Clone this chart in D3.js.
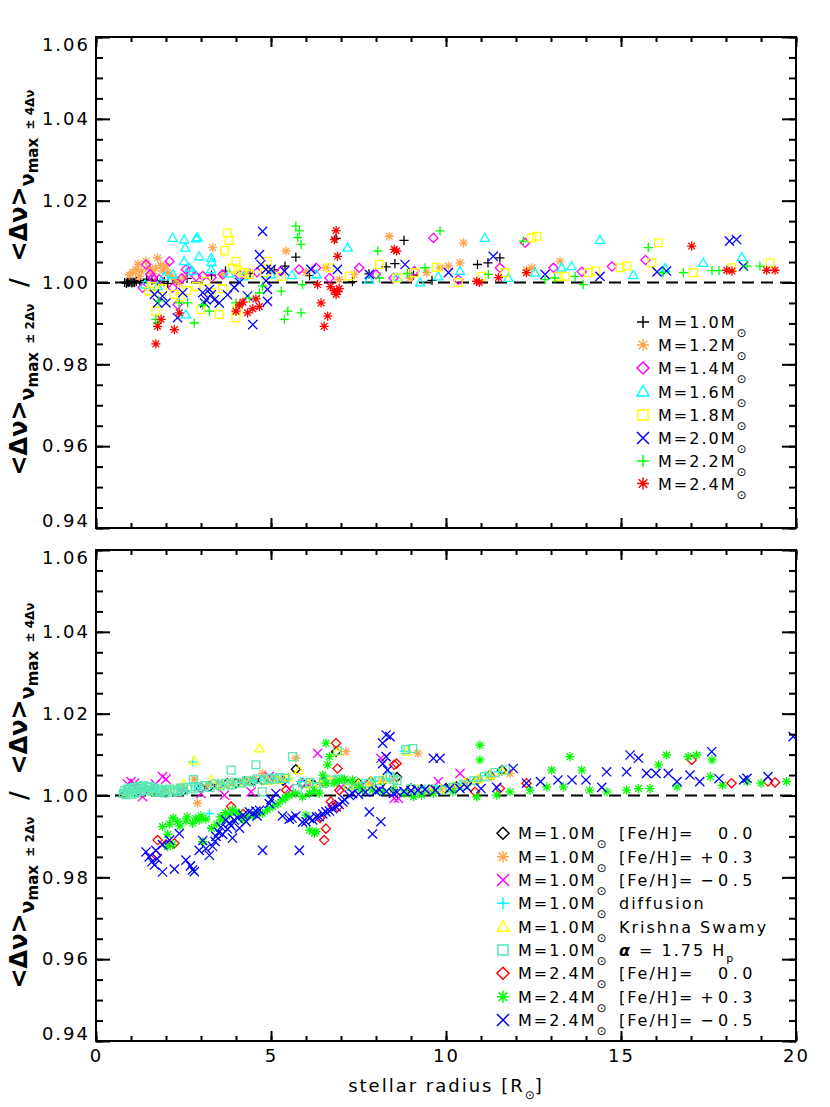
<!DOCTYPE html>
<html>
<head>
<meta charset="utf-8">
<script src="https://cdn.jsdelivr.net/npm/d3@7"></script>
<style>
body { margin: 0; background: #fff; }
text { font-family: "DejaVu Sans", sans-serif; }
</style>
</head>
<body>
<div id="chart"></div>
<script>
// ---- data: [stellar radius, ratio] ----

// upper panel, solar metallicity tracks
var topM10 = [[0.82,1.0000],[0.87,0.9998],[0.90,1.0001],[0.93,1.0000],[0.96,1.0002],[1.00,1.0001],[1.03,0.9999],[1.06,1.0001],[1.10,1.0000],[1.15,1.0002],[1.25,1.0005],[1.45,1.0008],[1.60,1.0006],[1.75,1.0004],[1.95,1.0002],[2.05,0.9998],[2.30,1.0004],[2.60,1.0010],[3.30,1.0018],[3.70,1.0028],[4.40,1.0022],[5.10,1.0031],[5.40,1.0040],[5.71,1.0062],[6.10,1.0017],[6.86,1.0108],[7.33,1.0002],[7.80,1.0021],[8.29,1.0038],[8.54,1.0046],[8.80,1.0103],[9.07,1.0018],[9.60,1.0005],[10.90,1.0044],[11.20,1.0048],[11.54,1.0060]];
var topM12 = [[0.95,1.0018],[1.05,1.0025],[1.14,1.0032],[1.20,1.0045],[1.24,1.0015],[1.30,1.0028],[1.43,1.0052],[1.50,1.0038],[1.55,1.0030],[1.62,1.0022],[1.70,1.0035],[1.76,1.0060],[1.85,1.0042],[1.90,1.0028],[2.00,1.0040],[2.05,1.0024],[2.15,1.0016],[2.29,1.0007],[2.38,0.9999],[2.50,1.0012],[3.33,1.0085],[3.60,1.0018],[4.30,1.0026],[5.00,1.0028],[5.43,1.0077],[6.00,1.0025],[6.57,1.0036],[6.95,1.0007],[7.38,1.0020],[8.38,1.0113],[8.97,1.0011],[9.45,1.0024],[9.83,1.0036],[10.07,1.0040],[10.40,1.0048],[10.50,1.0097],[12.30,1.0030],[12.45,1.0036],[13.26,1.0052]];
var topM14 = [[1.33,0.9987],[1.43,1.0044],[1.55,1.0020],[1.62,1.0011],[1.80,1.0008],[2.10,1.0052],[2.19,0.9987],[2.33,0.9946],[2.45,1.0010],[2.57,1.0032],[2.70,1.0028],[2.86,1.0015],[3.05,1.0016],[3.30,1.0012],[3.62,1.0020],[4.10,1.0018],[4.60,1.0025],[5.29,1.0028],[5.80,1.0032],[6.29,1.0036],[6.67,1.0011],[7.52,1.0036],[8.00,1.0020],[8.50,1.0011],[9.10,1.0028],[9.64,1.0109],[10.35,1.0007],[11.54,1.0036],[12.26,1.0097],[13.07,1.0036],[13.88,1.0026],[14.74,1.0039],[15.70,1.0055]];
var topM16 = [[1.40,0.9995],[1.76,0.9991],[1.95,1.0015],[2.19,1.0109],[2.20,1.0020],[2.52,1.0105],[2.55,1.0085],[2.52,1.0052],[2.67,1.0036],[2.76,1.0028],[2.86,1.0108],[2.90,1.0110],[2.95,1.0064],[2.57,0.9922],[3.29,1.0060],[3.30,1.0050],[3.29,1.0032],[3.80,1.0022],[4.20,1.0015],[5.00,1.0020],[5.60,1.0018],[6.30,1.0020],[7.19,1.0085],[7.80,1.0007],[8.60,1.0012],[9.26,1.0000],[9.78,1.0015],[10.40,1.0028],[11.11,1.0109],[11.78,1.0011],[12.54,1.0024],[13.30,1.0036],[13.59,1.0040],[14.40,1.0104],[15.35,1.0018],[16.26,1.0035],[17.35,1.0048],[18.45,1.0062]];
var topM18 = [[1.52,0.9979],[1.60,0.9990],[1.71,0.9930],[1.90,0.9985],[2.24,0.9971],[2.40,0.9965],[2.60,0.9980],[2.86,0.9990],[3.00,0.9934],[3.14,1.0003],[3.30,0.9975],[3.52,0.9922],[3.62,0.9985],[3.67,1.0078],[3.76,1.0121],[3.81,1.0103],[3.90,1.0035],[4.00,1.0052],[4.00,0.9914],[4.02,0.9934],[4.05,1.0030],[4.20,1.0024],[4.38,1.0020],[4.81,1.0024],[4.90,1.0052],[5.30,1.0015],[6.67,1.0036],[7.24,1.0016],[8.10,1.0044],[8.59,1.0011],[9.10,1.0024],[9.73,1.0037],[10.35,1.0000],[11.02,1.0015],[11.69,1.0024],[12.45,1.0109],[12.59,1.0113],[13.21,1.0015],[13.40,1.0015],[14.07,1.0024],[14.27,1.0028],[14.97,1.0036],[15.16,1.0040],[15.88,1.0048],[16.07,1.0097],[17.07,1.0024],[18.16,1.0036],[19.26,1.0048]];
var topM20 = [[1.67,0.9971],[1.76,0.9950],[1.90,0.9967],[2.00,0.9950],[2.33,0.9914],[2.48,0.9975],[3.05,0.9975],[3.14,0.9958],[3.24,0.9983],[3.29,0.9970],[3.10,0.9950],[3.38,0.9958],[3.52,0.9950],[3.76,0.9970],[3.95,0.9988],[4.10,1.0000],[4.33,0.9967],[4.48,0.9897],[4.67,1.0068],[4.71,1.0044],[4.76,1.0125],[4.86,1.0032],[4.86,1.0004],[4.90,0.9983],[4.90,0.9954],[5.00,1.0032],[5.38,1.0028],[6.14,1.0032],[6.90,1.0032],[7.81,1.0020],[8.83,1.0044],[10.07,1.0024],[11.35,1.0064],[12.83,1.0020],[14.40,1.0015],[16.03,1.0026],[16.30,1.0028],[18.10,1.0101],[18.30,1.0105],[18.50,1.0040]];
var topM22 = [[1.71,0.9910],[1.76,0.9901],[1.80,0.9955],[2.38,0.9950],[2.62,0.9950],[2.81,0.9901],[3.05,0.9945],[3.24,0.9930],[4.00,0.9950],[4.38,0.9962],[4.67,0.9975],[4.76,0.9991],[5.29,0.9979],[5.38,0.9910],[5.48,0.9930],[5.71,1.0138],[5.76,1.0110],[5.81,1.0126],[5.86,1.0093],[5.86,0.9926],[5.90,0.9995],[8.05,1.0077],[8.10,1.0011],[8.90,1.0022],[9.40,1.0036],[9.83,1.0126],[11.21,1.0020],[12.21,1.0101],[12.83,1.0007],[13.11,1.0011],[13.69,1.0015],[13.92,0.9995],[15.78,1.0085],[16.20,1.0024],[16.78,1.0024],[17.60,1.0029],[17.80,1.0029],[18.60,1.0040],[18.97,1.0040]];
var topM24 = [[1.71,0.9850],[1.76,0.9893],[1.86,0.9910],[2.24,0.9885],[2.38,0.9926],[4.00,0.9930],[4.10,0.9945],[4.20,0.9952],[4.33,0.9926],[4.48,0.9936],[4.67,0.9941],[4.57,0.9960],[6.33,0.9995],[6.43,0.9950],[6.52,0.9893],[6.62,0.9918],[6.70,0.9990],[6.80,0.9980],[6.86,0.9971],[6.90,0.9978],[6.95,0.9985],[6.90,1.0064],[6.81,1.0105],[6.86,1.0127],[8.52,1.0081],[8.59,1.0077],[10.88,1.0003],[10.95,1.0000],[11.50,1.0012],[12.30,1.0024],[17.02,1.0089],[18.02,1.0030],[18.17,1.0028],[19.16,1.0030],[19.40,1.0030]];

// lower panel, physics / composition variants
var botM10Fe00 = [[0.85,1.0005],[1.20,1.0012],[1.60,1.0010],[2.00,1.0008],[2.50,1.0012],[3.00,1.0018],[3.25,1.0022],[3.50,1.0025],[3.75,1.0030],[4.00,1.0030],[4.25,1.0034],[4.50,1.0035],[4.75,1.0038],[5.00,1.0040],[5.35,1.0036],[5.71,1.0064],[5.90,1.0030],[6.20,1.0028],[6.50,1.0034],[6.86,1.0107],[7.20,1.0026],[7.50,1.0030],[7.85,1.0034],[8.20,1.0035],[8.60,1.0045],[9.00,1.0017],[9.30,1.0015],[9.60,1.0014],[10.00,1.0018],[10.30,1.0022],[10.60,1.0030],[10.90,1.0038],[11.25,1.0050],[11.60,1.0062]];
var botM10Fe03 = [[0.90,1.0010],[1.40,1.0015],[2.00,1.0012],[2.40,1.0020],[2.81,1.0040],[2.90,0.9981],[3.20,1.0026],[3.50,1.0030],[3.85,1.0032],[4.20,1.0035],[4.50,1.0040],[4.76,1.0054],[5.05,1.0042],[5.30,1.0040],[5.71,1.0091],[6.10,1.0026],[6.50,1.0032],[6.80,1.0038],[7.14,1.0107],[7.45,1.0024],[7.80,1.0030],[8.15,1.0036],[8.50,1.0040],[9.20,1.0103],[9.55,1.0014],[9.90,1.0015],[10.25,1.0022],[10.60,1.0030],[10.95,1.0040],[11.30,1.0045],[11.83,1.0054]];
var botM10Fe05 = [[0.90,1.0028],[1.00,1.0034],[1.10,1.0030],[1.33,0.9997],[1.70,1.0028],[1.90,1.0046],[2.00,1.0040],[2.50,1.0015],[3.00,1.0005],[3.67,1.0001],[4.43,1.0009],[4.95,1.0046],[5.52,1.0017],[6.00,1.0030],[6.33,1.0103],[7.00,1.0020],[7.60,1.0025],[8.14,1.0091],[8.52,0.9993],[8.64,0.9993],[9.20,1.0010],[9.78,1.0034],[10.40,1.0054]];
var botM10Diff = [[0.85,1.0010],[1.20,1.0014],[1.70,1.0012],[2.30,1.0016],[2.76,1.0082],[2.90,1.0020],[3.24,0.9956],[3.60,1.0028],[3.90,1.0030],[4.20,1.0032],[4.50,1.0036],[4.80,1.0038],[5.15,1.0042],[5.50,1.0040],[5.85,1.0034],[6.20,1.0030],[6.55,1.0036],[6.90,1.0035],[7.25,1.0028],[7.60,1.0032],[7.95,1.0036],[8.30,1.0040],[8.80,1.0108],[9.40,1.0016],[9.75,1.0016],[10.10,1.0020],[10.45,1.0028],[10.80,1.0036],[11.15,1.0048],[11.50,1.0058]];
var botM10KS = [[0.90,1.0008],[1.50,1.0012],[2.20,1.0014],[2.50,1.0028],[2.80,1.0085],[3.29,1.0038],[3.60,1.0026],[3.90,1.0030],[4.30,1.0034],[4.67,1.0115],[4.90,1.0036],[5.20,1.0038],[5.50,1.0044],[5.80,1.0062],[6.10,1.0028],[6.40,1.0030],[6.65,1.0036],[6.90,1.0107],[7.20,1.0024],[7.50,1.0028],[7.85,1.0034],[8.20,1.0040],[8.90,1.0107],[9.20,1.0016],[9.50,1.0014],[9.85,1.0016],[10.20,1.0022],[10.55,1.0030],[10.90,1.0040],[11.25,1.0050],[11.60,1.0060]];
var botM10Alpha = [[0.78,1.0005],[0.82,1.0012],[0.86,1.0002],[0.90,1.0015],[0.94,1.0008],[0.98,1.0018],[1.02,1.0003],[1.06,1.0012],[1.10,1.0020],[1.14,1.0006],[1.18,1.0016],[1.22,1.0022],[1.26,1.0010],[1.30,1.0018],[1.35,1.0024],[1.40,1.0012],[1.45,1.0020],[1.50,1.0014],[1.55,1.0022],[1.60,1.0010],[1.66,1.0018],[1.72,1.0008],[1.78,1.0016],[1.84,1.0010],[1.90,1.0014],[1.96,1.0006],[2.02,1.0012],[2.10,1.0016],[2.18,1.0008],[2.26,1.0014],[2.34,1.0010],[2.42,1.0018],[2.50,1.0012],[2.60,1.0020],[2.70,1.0016],[2.78,1.0039],[2.85,1.0022],[2.95,1.0018],[3.10,1.0024],[3.25,1.0020],[3.40,1.0028],[3.55,1.0024],[3.70,1.0030],[3.86,1.0062],[3.85,1.0026],[4.00,1.0032],[4.15,1.0030],[4.30,1.0036],[4.45,1.0034],[4.57,1.0075],[4.60,1.0040],[4.75,1.0009],[4.80,1.0038],[4.95,1.0042],[5.10,1.0040],[5.25,1.0044],[5.40,1.0042],[5.62,1.0095],[5.75,1.0017],[5.90,1.0030],[6.10,1.0032],[6.30,1.0022],[6.50,1.0030],[6.70,1.0038],[6.90,1.0110],[6.95,1.0040],[7.20,1.0022],[7.50,1.0018],[7.80,1.0030],[8.10,1.0036],[8.40,1.0046],[8.50,1.0040],[8.60,1.0036],[8.85,1.0112],[9.05,1.0115],[9.00,1.0017],[9.30,1.0013],[9.60,1.0015],[9.90,1.0013],[10.20,1.0020],[10.50,1.0026],[10.80,1.0036],[11.10,1.0046],[11.40,1.0056],[11.70,1.0062]];
var botM24Fe00 = [[1.71,0.9854],[1.76,0.9891],[2.00,0.9880],[2.24,0.9883],[3.86,0.9973],[4.20,0.9955],[5.43,1.0013],[6.52,0.9891],[6.57,0.9919],[6.40,0.9945],[6.71,0.9985],[6.76,0.9975],[6.90,0.9972],[6.95,1.0013],[6.90,1.0066],[6.86,1.0128],[8.52,1.0075],[8.59,1.0078],[10.83,1.0009],[11.54,1.0017],[12.30,1.0030],[17.02,1.0087],[18.16,1.0030],[19.20,1.0034],[19.40,1.0032]];
var botM24Fe03 = [[1.90,0.9924],[2.05,0.9875],[2.05,0.9905],[2.10,0.9930],[2.19,0.9880],[2.20,0.9945],[2.33,0.9936],[2.40,0.9925],[2.57,0.9938],[2.60,0.9948],[2.76,0.9932],[2.85,0.9944],[2.95,0.9940],[3.00,0.9950],[3.05,0.9887],[3.14,0.9942],[3.30,0.9920],[3.45,0.9930],[3.55,0.9948],[3.62,0.9940],[3.70,0.9958],[3.81,0.9952],[3.90,0.9965],[4.00,0.9960],[4.10,0.9955],[4.19,0.9940],[4.30,0.9948],[4.48,0.9950],[4.60,0.9958],[4.76,0.9956],[4.90,0.9965],[5.05,0.9973],[5.20,0.9980],[5.33,0.9989],[5.40,0.9995],[5.52,1.0000],[5.70,1.0005],[5.90,0.9997],[6.10,1.0005],[6.00,0.9952],[6.10,0.9915],[6.24,0.9908],[6.29,0.9912],[6.24,1.0012],[6.38,1.0005],[6.57,1.0030],[6.62,1.0075],[6.57,1.0128],[6.67,1.0095],[6.48,1.0050],[6.80,1.0030],[6.95,1.0038],[7.10,1.0040],[7.33,1.0038],[7.50,1.0020],[7.62,1.0013],[7.90,1.0013],[8.19,1.0009],[8.50,1.0015],[8.80,1.0005],[9.07,0.9997],[9.30,1.0001],[9.64,1.0005],[10.20,1.0009],[10.88,0.9997],[10.97,1.0123],[10.97,1.0087],[11.45,1.0001],[11.83,1.0009],[12.40,1.0013],[12.88,1.0021],[13.02,1.0062],[13.35,1.0021],[13.54,1.0095],[13.88,1.0062],[14.10,1.0013],[14.60,1.0009],[15.16,1.0013],[15.50,1.0017],[15.83,1.0017],[16.07,1.0075],[16.30,1.0099],[16.60,1.0021],[16.92,1.0095],[17.16,1.0099],[17.60,1.0087],[17.55,1.0046],[17.90,1.0025],[18.60,1.0034],[19.00,1.0030],[19.73,1.0034]];
var botM24Fe05 = [[1.43,0.9862],[1.52,0.9850],[1.60,0.9838],[1.67,0.9830],[1.75,0.9845],[1.90,0.9813],[1.71,0.9866],[1.90,0.9880],[2.10,0.9891],[2.24,0.9820],[2.38,0.9907],[2.57,0.9842],[2.70,0.9828],[2.76,0.9818],[2.81,0.9814],[2.95,0.9866],[3.05,0.9890],[3.14,0.9870],[3.24,0.9854],[3.33,0.9876],[3.40,0.9888],[3.43,0.9900],[3.50,0.9910],[3.57,0.9923],[3.62,0.9905],[3.71,0.9940],[3.76,0.9918],[3.81,0.9932],[3.86,0.9926],[3.90,0.9896],[3.95,0.9940],[4.05,0.9945],[4.10,0.9920],[4.20,0.9952],[4.29,0.9936],[4.38,0.9960],[4.48,0.9956],[4.57,0.9962],[4.60,0.9950],[4.67,0.9964],[4.76,0.9866],[4.95,0.9980],[5.00,0.9990],[5.14,1.0005],[5.33,0.9950],[5.52,0.9942],[5.60,0.9945],[5.71,0.9950],[5.81,0.9866],[5.90,0.9935],[6.00,0.9936],[6.10,0.9944],[6.19,0.9940],[6.30,0.9948],[6.38,0.9948],[6.48,0.9955],[6.57,0.9960],[6.67,0.9962],[6.76,0.9968],[6.86,0.9972],[6.95,0.9978],[7.05,0.9984],[7.10,0.9990],[7.24,1.0000],[7.33,1.0005],[7.50,1.0003],[7.70,1.0008],[7.81,0.9960],[7.90,0.9906],[8.00,1.0010],[8.14,0.9936],[8.19,1.0128],[8.29,1.0148],[8.29,1.0095],[8.33,1.0062],[8.19,1.0078],[8.10,1.0014],[8.30,1.0010],[8.40,1.0144],[8.50,1.0005],[8.60,1.0008],[8.80,1.0010],[9.00,1.0012],[9.20,1.0013],[9.40,1.0015],[9.64,1.0091],[9.83,1.0091],[9.70,1.0013],[10.10,1.0017],[10.40,1.0017],[10.60,1.0020],[11.00,1.0017],[11.45,1.0020],[11.92,1.0066],[12.30,1.0030],[12.70,1.0034],[13.20,1.0038],[13.60,1.0038],[14.00,1.0038],[14.45,1.0020],[14.59,1.0058],[15.16,1.0058],[15.26,1.0099],[15.50,1.0091],[15.73,1.0054],[16.00,1.0054],[16.35,1.0054],[16.60,1.0034],[16.97,1.0050],[17.25,1.0034],[17.59,1.0107],[17.80,1.0041],[18.50,1.0038],[18.60,1.0042],[19.20,1.0046],[19.92,1.0144]];

// legends
var topSeries = [topM10, topM12, topM14, topM16, topM18, topM20, topM22, topM24];
var topMasses = ["M=1.0M", "M=1.2M", "M=1.4M", "M=1.6M", "M=1.8M", "M=2.0M", "M=2.2M", "M=2.4M"];
var topColors = ["#000000", "#ffa64f", "#ff00ff", "#00ffff", "#ffff00", "#0000ff", "#00ff00", "#ff0000"];
var topSymbols = ["plus", "asterisk", "diamond", "triangle", "square", "cross", "plus", "asterisk"];

var botSeries = [botM10Fe00, botM10Fe03, botM10Fe05, botM10Diff, botM10KS, botM10Alpha, botM24Fe00, botM24Fe03, botM24Fe05];
var botMasses = ["M=1.0M", "M=1.0M", "M=1.0M", "M=1.0M", "M=1.0M", "M=1.0M", "M=2.4M", "M=2.4M", "M=2.4M"];
var botNotes = ["[Fe/H]=", "[Fe/H]=", "[Fe/H]=", "diffusion", "Krishna Swamy", "alpha", "[Fe/H]=", "[Fe/H]=", "[Fe/H]="];
var botFeH = ["0.0", "+0.3", "\u22120.5", "", "", "", "0.0", "+0.3", "\u22120.5"];
var botColors = ["#000000", "#ffa64f", "#ff00ff", "#00ffff", "#ffff00", "#55e8b5", "#ff0000", "#00ff00", "#0000ff"];
var botSymbols = ["diamond", "asterisk", "cross", "plus", "triangle", "square", "diamond", "asterisk", "cross"];

var yTicks = [0.94, 0.96, 0.98, 1.00, 1.02, 1.04, 1.06];
var xTicks = [0, 5, 10, 15, 20];

// ---- layout ----
var width = 830, height = 1107;
var left = 96, plotW = 700, plotH = 491;
var panelTops = [37, 550];

var svg = d3.select("#chart")
	.append("svg")
	.attr("width", width)
	.attr("height", height)
	.style("background", "#fff");

var x = d3.scaleLinear().domain([0, 20]).range([left, left + plotW]);

// IDL-like plot symbols, drawn as outlines
function symbolPath(type, s) {
	var d = s * 0.72, q = s * 0.85;
	if (type == "plus") return "M" + (-s) + ",0H" + s + "M0," + (-s) + "V" + s;
	if (type == "asterisk") return "M" + (-s) + ",0H" + s + "M0," + (-s) + "V" + s +
		"M" + (-d) + "," + (-d) + "L" + d + "," + d + "M" + (-d) + "," + d + "L" + d + "," + (-d);
	if (type == "diamond") return "M0," + (-s) + "L" + s + ",0L0," + s + "L" + (-s) + ",0Z";
	if (type == "triangle") return "M0," + (-s) + "L" + s + "," + (s * 0.75) + "L" + (-s) + "," + (s * 0.75) + "Z";
	if (type == "square") return "M" + (-q) + "," + (-q) + "H" + q + "V" + q + "H" + (-q) + "Z";
	return "M" + (-s) + "," + (-s) + "L" + s + "," + s + "M" + (-s) + "," + s + "L" + s + "," + (-s);
}

function styleAxis(g) {
	g.select(".domain").remove();
	g.selectAll("line").attr("stroke", "#000").attr("stroke-width", 2);
	g.selectAll("text")
		.attr("font-family", "DejaVu Sans, sans-serif")
		.attr("font-size", 18)
		.attr("letter-spacing", 2)
		.attr("fill", "#000");
}

function drawPanel(idx, seriesList, colors, symbols, showX) {
	var top = panelTops[idx];
	var y = d3.scaleLinear().domain([0.94, 1.06]).range([top + plotH, top]);

	var clipId = "clip" + idx;
	svg.append("clipPath").attr("id", clipId)
		.append("rect")
		.attr("x", left).attr("y", top)
		.attr("width", plotW).attr("height", plotH);

	// reference line at unity
	svg.append("line")
		.attr("x1", x(0)).attr("x2", x(20))
		.attr("y1", y(1)).attr("y2", y(1))
		.attr("stroke", "#000")
		.attr("stroke-width", 2)
		.attr("stroke-dasharray", "12,7");

	// points
	var pts = svg.append("g").attr("clip-path", "url(#" + clipId + ")");
	seriesList.forEach(function (data, i) {
		pts.append("g")
			.selectAll("path")
			.data(data)
			.enter()
			.append("path")
			.attr("transform", function (d) { return "translate(" + x(d[0]) + "," + y(d[1]) + ")"; })
			.attr("d", symbolPath(symbols[i], 4.6))
			.attr("fill", "none")
			.attr("stroke", colors[i])
			.attr("stroke-width", 1.3);
	});

	var yMinor = d3.range(0, 25).map(function (k) { return 0.94 + k * 0.005; });
	var xMinor = d3.range(0, 21);

	// left axis with labels
	var gl = svg.append("g")
		.attr("transform", "translate(" + left + ",0)")
		.call(d3.axisLeft(y).tickValues(yTicks).tickSizeInner(-14).tickSizeOuter(0).tickPadding(6)
			.tickFormat(d3.format(".2f")));
	styleAxis(gl);
	gl.selectAll("text").attr("y", function (d) {
		var yy = y(d);
		return Math.min(Math.max(yy, top + 8), top + plotH - 7) - yy;
	});
	var glm = svg.append("g")
		.attr("transform", "translate(" + left + ",0)")
		.call(d3.axisLeft(y).tickValues(yMinor).tickSizeInner(-7).tickSizeOuter(0).tickFormat(""));
	styleAxis(glm);

	// right axis
	var gr = svg.append("g")
		.attr("transform", "translate(" + (left + plotW) + ",0)")
		.call(d3.axisRight(y).tickValues(yTicks).tickSizeInner(-14).tickSizeOuter(0).tickFormat(""));
	styleAxis(gr);
	var grm = svg.append("g")
		.attr("transform", "translate(" + (left + plotW) + ",0)")
		.call(d3.axisRight(y).tickValues(yMinor).tickSizeInner(-7).tickSizeOuter(0).tickFormat(""));
	styleAxis(grm);

	// top axis
	var gt = svg.append("g")
		.attr("transform", "translate(0," + top + ")")
		.call(d3.axisTop(x).tickValues(xTicks).tickSizeInner(-10).tickSizeOuter(0).tickFormat(""));
	styleAxis(gt);
	var gtm = svg.append("g")
		.attr("transform", "translate(0," + top + ")")
		.call(d3.axisTop(x).tickValues(xMinor).tickSizeInner(-5).tickSizeOuter(0).tickFormat(""));
	styleAxis(gtm);

	// bottom axis
	var gb = svg.append("g")
		.attr("transform", "translate(0," + (top + plotH) + ")")
		.call(d3.axisBottom(x).tickValues(xTicks).tickSizeInner(-10).tickSizeOuter(0).tickPadding(8)
			.tickFormat(showX ? d3.format("d") : ""));
	styleAxis(gb);
	var gbm = svg.append("g")
		.attr("transform", "translate(0," + (top + plotH) + ")")
		.call(d3.axisBottom(x).tickValues(xMinor).tickSizeInner(-5).tickSizeOuter(0).tickFormat(""));
	styleAxis(gbm);

	// frame
	svg.append("rect")
		.attr("x", left).attr("y", top)
		.attr("width", plotW).attr("height", plotH)
		.attr("fill", "none")
		.attr("stroke", "#000")
		.attr("stroke-width", 2);

	// rotated y label
	var yl = svg.append("text")
		.attr("transform", "translate(27," + (top + plotH / 2) + ") rotate(-90)")
		.attr("text-anchor", "middle")
		.style("white-space", "pre")
		.attr("fill", "#000");
	[0, 1].forEach(function (j) {
		yl.append("tspan").attr("font-size", 24).attr("font-weight", "bold").attr("dy", j == 0 ? 0 : -7)
			.text((j == 0 ? "" : "  /  ") + "<\u0394\u03bd>");
		yl.append("tspan").attr("font-size", 19).attr("font-weight", "bold").attr("dy", 7).text("\u03bd");
		yl.append("tspan").attr("font-size", 15).attr("font-weight", "bold").attr("dy", 4).text("max");
		yl.append("tspan").attr("font-size", 12).attr("font-weight", "bold").attr("dy", -4)
			.text("  \u00b1 " + (j == 0 ? "2" : "4") + "\u0394\u03bd");
	});

	return y;
}

drawPanel(0, topSeries, topColors, topSymbols, false);
drawPanel(1, botSeries, botColors, botSymbols, true);

// x axis title
var xt = svg.append("text")
	.attr("x", 446).attr("y", 1092)
	.attr("text-anchor", "middle")
	.attr("font-size", 18)
	.attr("letter-spacing", 2)
	.attr("fill", "#000");
xt.append("tspan").text("stellar radius [R");
xt.append("tspan").attr("font-size", 12).attr("dy", 7).attr("letter-spacing", 0).text("\u2299");
xt.append("tspan").attr("dy", -7).text("]");

// top legend
var rowTop = [322, 345, 368, 391.5, 415, 438, 461, 483.5];
topMasses.forEach(function (label, i) {
	svg.append("path")
		.attr("transform", "translate(643," + rowTop[i] + ")")
		.attr("d", symbolPath(topSymbols[i], 6))
		.attr("fill", "none")
		.attr("stroke", topColors[i])
		.attr("stroke-width", 1.5);
	var t = svg.append("text")
		.attr("x", 658).attr("y", rowTop[i] + 6)
		.attr("font-size", 16).attr("letter-spacing", 2).attr("fill", "#000");
	t.append("tspan").text(label);
	t.append("tspan").attr("font-size", 12).attr("dy", 9).attr("letter-spacing", 0).text("\u2299");
});

// bottom legend
var rowBot = [833.3, 856.7, 880, 903.3, 926.7, 950, 973.3, 996.7, 1020];
botMasses.forEach(function (label, i) {
	svg.append("path")
		.attr("transform", "translate(503," + rowBot[i] + ")")
		.attr("d", symbolPath(botSymbols[i], 6))
		.attr("fill", "none")
		.attr("stroke", botColors[i])
		.attr("stroke-width", 1.5);
	var t = svg.append("text")
		.attr("x", 518).attr("y", rowBot[i] + 6)
		.attr("font-size", 16).attr("letter-spacing", 2).attr("fill", "#000");
	t.append("tspan").text(label);
	t.append("tspan").attr("font-size", 12).attr("dy", 9).attr("letter-spacing", 0).text("\u2299");

	var n = svg.append("text")
		.attr("x", 619).attr("y", rowBot[i] + 6)
		.attr("font-size", 16).attr("letter-spacing", 2).attr("fill", "#000")
		.style("white-space", "pre");
	if (botNotes[i] == "alpha") {
		n.append("tspan").attr("font-style", "italic").attr("font-weight", "bold").text("\u03b1");
		n.append("tspan").text(" = 1.75 H");
		n.append("tspan").attr("font-size", 11).attr("dy", 6).text("p");
	} else {
		n.text(botNotes[i]);
	}
	if (botFeH[i] != "") {
		svg.append("text")
			.attr("class", "feh")
			.attr("x", 757).attr("y", rowBot[i] + 6)
			.attr("text-anchor", "end")
			.attr("font-size", 16).attr("letter-spacing", 4.5).attr("fill", "#000")
			.text(botFeH[i]);
	}
});
</script>
</body>
</html>
